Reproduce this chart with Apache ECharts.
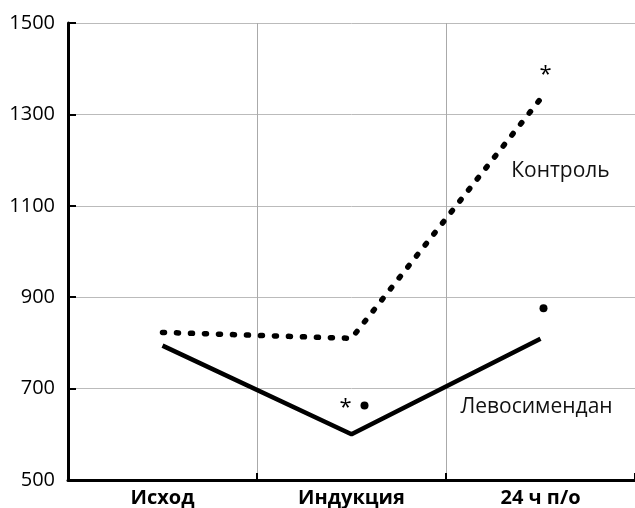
<!DOCTYPE html>
<html><head><meta charset="utf-8">
<script src="https://cdn.jsdelivr.net/npm/echarts@6/dist/echarts.min.js"></script>
<style>html,body{margin:0;padding:0;background:#fff}#c{width:635px;height:508px}</style>
</head><body><div id="c"></div>
<script>
var categories = ['Исход', 'Индукция', '24 ч п/о'];
var yTicks = [500, 700, 900, 1100, 1300, 1500];
var control = [823, 810, 1334];
var levo = [794, 600, 809];
// significance marks: [category, value, x-offset px]
var dots = [['Индукция', 663, 13], ['24 ч п/о', 876, 3]];
var stars = [['Индукция', 662, -6], ['24 ч п/о', 1392, 5]];
var seriesLabels = [['Контроль', '24 ч п/о', 1176, 20], ['Левосимендан', '24 ч п/о', 660, -4]];

var FONT = '"Open Sans", "Noto Sans", sans-serif';
var chart = echarts.init(document.getElementById('c'), null, {renderer: 'canvas'});
chart.setOption({
  animation: false,
  backgroundColor: '#fff',
  grid: {left: 68, top: 23, width: 568, height: 457, containLabel: false},
  xAxis: {
    type: 'category', data: categories, boundaryGap: true,
    axisLine: {show: true, lineStyle: {color: '#000', width: 3}},
    axisTick: {show: true, inside: true, length: 7, lineStyle: {color: '#000', width: 2}},
    splitLine: {show: true, lineStyle: {color: '#aaa', width: 1}},
    axisLabel: {fontFamily: FONT, fontSize: 20, fontWeight: 'bold', color: '#000', margin: 8}
  },
  yAxis: {
    type: 'value', min: yTicks[0], max: yTicks[yTicks.length - 1], interval: yTicks[1] - yTicks[0],
    axisLine: {show: true, lineStyle: {color: '#000', width: 3}},
    axisTick: {show: true, inside: true, length: 8, lineStyle: {color: '#000', width: 2}},
    splitLine: {show: true, lineStyle: {color: '#bbb', width: 1}},
    axisLabel: {fontFamily: FONT, fontSize: 20, color: '#000', margin: 13,
                formatter: function (v) { return String(v); }}
  },
  series: [
    {type: 'line', data: control, symbol: 'none',
     lineStyle: {color: '#000', width: 5.5, type: [2, 12], cap: 'round'}},
    {type: 'line', data: levo, symbol: 'none',
     lineStyle: {color: '#000', width: 4.5}},
    {type: 'scatter', symbol: 'circle', symbolSize: 8, itemStyle: {color: '#000', opacity: 1},
     data: dots.map(function (d) { return {value: [d[0], d[1]], symbolOffset: [d[2], 0]}; })},
    {type: 'scatter', symbolSize: 1, itemStyle: {color: 'rgba(0,0,0,0)', opacity: 1},
     label: {show: true, position: 'inside', formatter: '*', fontFamily: FONT, fontSize: 22, color: '#000'},
     data: stars.map(function (d) { return {value: [d[0], d[1]], label: {offset: [d[2], 2]}}; })},
    {type: 'scatter', symbolSize: 1, itemStyle: {color: 'rgba(0,0,0,0)', opacity: 1},
     label: {show: true, position: 'inside', fontFamily: FONT, fontSize: 21, color: '#111',
             formatter: function (p) { return p.data.name; }},
     data: seriesLabels.map(function (d) { return {name: d[0], value: [d[1], d[2]], label: {offset: [d[3], 0]}}; })}
  ]
});
</script></body></html>
